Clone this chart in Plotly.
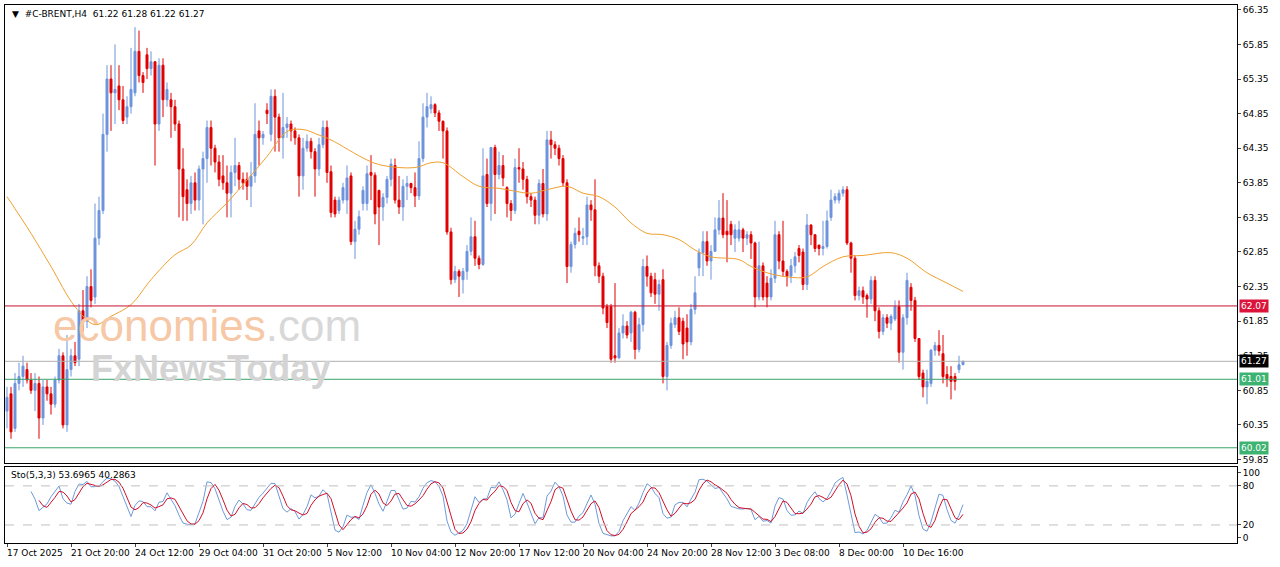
import plotly.graph_objects as go

opens = [60.55,60.8,60.3,60.95,61.05,61.15,61.0,60.85,60.95,60.45,60.9,60.8,60.65,61.0,61.35,60.35,61.15,61.35,61.3,62.0,
61.85,62.35,62.2,63.05,63.45,64.55,65.35,65.15,65.25,65.05,64.8,64.95,65.15,65.75,65.4,65.7,65.5,65.6,64.7,65.55,
65.05,65.05,64.95,64.7,64.05,63.75,63.55,63.85,63.6,64.05,64.2,64.65,64.35,64.15,63.95,63.85,63.7,64.0,64.1,63.9,
63.9,63.8,63.95,64.6,64.5,64.9,64.55,65.1,64.8,64.5,64.65,64.7,64.6,64.5,63.95,64.35,64.45,64.3,64.05,64.4,
64.65,64.01,63.6,63.45,63.6,63.6,63.95,63.0,63.18,63.55,63.55,64.0,63.96,63.74,63.5,63.64,63.9,64.1,63.6,63.5,
63.8,63.84,63.78,63.66,64.2,64.8,64.92,64.98,64.86,64.74,64.6,63.14,62.45,62.57,62.45,62.57,62.86,63.07,62.76,62.67,
63.97,63.55,64.36,63.97,64.1,63.78,63.55,63.45,64.07,64.05,63.9,63.65,63.6,63.38,63.84,63.4,64.47,64.4,64.35,64.2,
63.85,62.64,62.96,63.15,63.05,63.07,63.53,63.46,62.65,62.5,62.06,62.06,61.35,61.32,61.68,61.78,61.68,61.98,61.44,61.8,
62.64,62.5,62.45,62.24,62.45,61.05,61.5,61.8,61.9,61.85,61.75,61.55,62.02,62.62,62.84,63.0,62.72,62.86,63.17,63.34,
63.15,63.25,63.05,63.05,63.17,63.05,63.1,62.98,62.2,62.65,62.4,62.2,62.47,63.1,62.72,62.57,62.5,62.65,62.9,62.85,
62.38,63.24,63.1,62.95,62.9,62.93,63.35,63.6,63.6,63.7,63.75,62.98,62.76,62.22,62.29,62.22,62.17,62.44,62.0,61.7,
61.9,61.82,61.88,62.06,61.4,61.9,62.34,62.15,61.6,61.1,60.9,60.95,61.43,61.5,61.38,61.08,61.05,61.05,61.15,61.22]
highs = [60.9,60.9,61.1,61.25,61.35,61.25,61.1,61.1,61.05,61.0,61.0,60.9,61.05,61.45,61.4,61.65,61.45,61.55,62.1,62.3,
62.5,62.6,63.55,63.65,64.85,65.55,65.55,65.85,65.55,65.25,65.1,65.8,66.1,66.05,65.45,65.8,65.75,65.6,65.65,65.65,
65.3,65.15,65.05,64.75,64.35,63.9,63.95,64.0,64.1,64.3,64.75,64.75,64.4,64.25,64.25,64.1,64.1,64.5,64.15,64.0,
64.0,64.15,65.0,64.75,64.6,65.0,65.2,65.2,64.85,65.15,64.8,64.75,64.65,64.55,64.5,64.55,64.5,64.35,64.5,64.75,
64.75,64.1,63.65,63.65,63.85,64.1,64.0,63.3,63.45,63.8,64.1,64.25,64.0,63.75,63.7,63.95,64.2,64.2,63.95,63.9,
63.95,63.85,64.0,64.45,65.0,65.15,65.1,65.0,64.9,64.75,64.65,63.2,62.65,62.6,62.62,62.95,63.35,63.3,62.8,64.35,
64.2,64.36,64.4,64.3,64.25,63.8,63.6,64.2,64.35,64.15,63.95,63.7,63.65,63.9,64.05,64.6,64.6,64.45,64.4,64.25,
63.9,63.0,63.2,63.35,63.2,63.65,63.6,63.9,62.7,62.55,62.1,62.1,62.4,61.75,61.95,61.85,62.0,62.0,61.9,62.75,
62.8,62.55,62.55,62.45,62.6,61.55,61.9,62.0,62.05,61.9,61.95,62.1,62.5,62.9,63.15,63.15,62.95,63.35,63.6,63.7,
63.6,63.3,63.25,63.3,63.2,63.15,63.15,63.0,63.0,62.7,62.5,62.6,63.3,63.15,63.3,62.6,62.75,62.85,62.95,62.9,
63.4,63.25,63.1,62.95,63.3,63.45,63.75,63.7,63.75,63.8,63.8,63.0,62.8,62.35,62.35,62.25,62.5,62.5,62.05,61.95,
61.95,61.95,62.15,62.15,61.95,62.55,62.4,62.2,61.6,61.15,61.15,61.45,61.55,61.72,61.65,61.2,61.2,61.1,61.35,61.28]
lows = [60.3,60.15,60.25,60.85,60.9,60.95,60.8,60.55,60.15,60.35,60.7,60.5,60.6,60.95,60.3,60.25,61.05,61.2,61.2,61.7,
61.75,62.05,62.1,62.95,63.4,64.3,64.6,64.7,64.9,64.7,64.7,64.85,65.1,65.3,65.15,65.35,65.4,64.1,64.6,64.8,
64.95,64.5,64.6,63.35,63.3,63.3,63.4,63.45,63.45,63.25,63.85,64.1,64.0,63.8,63.75,63.35,63.35,63.8,63.75,63.75,
63.6,63.5,63.85,64.1,64.4,64.7,64.45,64.3,64.3,64.2,64.5,64.45,64.4,63.65,63.75,64.3,64.2,63.65,63.95,64.35,
63.85,63.35,63.35,63.4,63.55,63.4,62.95,62.75,63.1,63.45,63.45,63.6,63.25,62.95,63.3,63.55,63.8,63.55,63.4,63.3,
63.6,63.7,63.5,63.6,64.15,64.65,64.85,64.8,64.6,64.2,63.1,62.38,62.4,62.2,62.25,62.45,62.8,62.65,62.6,62.65,
63.5,63.3,63.4,63.9,63.8,63.35,63.3,63.4,63.85,63.75,63.55,63.5,63.25,63.25,63.35,63.3,64.2,64.25,64.1,63.8,
62.4,62.55,62.9,63.0,62.95,62.95,63.3,62.5,62.4,61.95,61.75,61.25,61.25,61.3,61.6,61.6,61.55,61.3,61.4,61.7,
62.35,62.2,62.1,62.0,60.95,60.85,61.45,61.75,61.65,61.3,61.35,61.5,61.95,62.5,62.5,62.65,62.45,62.85,63.1,63.05,
62.7,62.95,62.85,63.0,62.85,62.95,62.75,62.05,62.15,62.15,62.05,62.15,62.4,62.6,62.5,62.35,62.4,62.55,62.7,62.3,
62.3,62.95,62.85,62.8,62.8,62.9,63.3,63.55,63.55,63.65,62.95,62.55,62.15,62.15,62.1,61.9,62.1,61.85,61.6,61.65,
61.75,61.72,61.85,61.25,61.15,61.8,62.0,61.55,61.0,60.75,60.65,60.9,61.35,61.35,60.95,60.9,60.72,60.85,61.1,61.22]
closes = [60.75,60.25,60.95,61.05,61.2,61.0,60.85,60.95,60.45,60.9,60.8,60.65,61.0,61.35,60.35,61.15,61.35,61.25,62.0,61.85,
62.35,62.15,63.05,63.45,64.55,65.35,65.15,65.2,65.05,64.75,64.95,65.2,65.75,65.4,65.3,65.5,65.6,64.7,65.55,65.05,
65.2,64.95,64.7,64.05,63.65,63.55,63.85,63.6,64.05,64.2,64.65,64.35,64.15,63.9,63.85,63.7,64.0,64.1,63.9,63.85,
63.8,63.95,64.55,64.5,64.55,64.85,65.1,64.8,64.5,64.65,64.7,64.6,64.5,63.95,64.35,64.45,64.3,64.05,64.4,64.65,
64.0,63.42,63.4,63.6,63.78,63.92,63.0,63.18,63.36,63.74,63.98,63.96,63.4,63.5,63.64,63.9,64.12,63.6,63.5,63.8,
63.84,63.78,63.66,64.2,64.8,64.95,64.98,64.86,64.74,64.6,63.14,62.45,62.57,62.5,62.57,62.86,63.07,62.76,62.67,63.95,
63.55,64.36,63.97,64.1,63.92,63.55,63.45,64.07,64.05,63.9,63.65,63.6,63.38,63.84,63.4,64.47,64.4,64.35,64.2,63.85,
62.64,62.96,63.12,63.1,63.07,63.53,63.46,62.65,62.5,62.04,61.83,61.3,61.32,61.68,61.78,61.65,61.98,61.44,61.8,62.64,
62.5,62.26,62.24,62.38,61.05,61.5,61.82,61.9,61.7,61.52,61.55,62.02,62.26,62.84,63.0,62.72,62.86,63.17,63.34,63.1,
63.1,63.1,63.17,63.17,63.05,63.1,62.98,62.2,62.65,62.2,62.2,62.47,63.1,62.72,62.57,62.5,62.65,62.78,62.8,62.38,
63.24,63.1,62.9,62.9,62.93,63.3,63.6,63.65,63.7,63.75,62.98,62.76,62.22,62.29,62.2,62.17,62.44,62.0,61.7,61.9,
61.82,61.92,62.06,61.4,61.9,62.44,62.15,61.6,61.05,60.9,60.98,61.43,61.5,61.42,61.05,61.02,60.98,60.98,61.22,61.27]

ma_idx = [0,6,11,17,22,26,31,36,42,46,50,55,60,65,70,74,78,81,90,94,102,106,109,114,118,123,131,135,140,144,148,152,156,160,164,
          168,172,176,183,186,190,195,200,204,209,214,221,225,230,235,239]
ma_vals = [63.65,63.12,62.64,62.06,61.8,61.92,62.09,62.45,62.81,62.95,63.27,63.56,63.89,64.23,64.59,64.62,64.54,64.47,64.18,64.1,64.07,64.14,64.14,63.94,63.8,63.77,63.7,63.75,63.8,63.7,63.65,63.5,63.27,63.12,63.1,
           63.03,62.88,62.78,62.74,62.64,62.55,62.49,62.49,62.64,62.78,62.8,62.84,62.76,62.55,62.4,62.28]

tick_idx = [0,16,32,48,64,80,96,112,128,144,160,176,192,208,224]
tick_text = ["17 Oct 2025","21 Oct 20:00","24 Oct 12:00","29 Oct 04:00","31 Oct 20:00","5 Nov 12:00","10 Nov 04:00",
             "12 Nov 20:00","17 Nov 12:00","20 Nov 04:00","24 Nov 20:00","28 Nov 12:00","3 Dec 08:00","8 Dec 00:00","10 Dec 16:00"]
price_ticks = [66.35,65.85,65.35,64.85,64.35,63.85,63.35,62.85,62.35,61.85,61.35,60.85,60.35,59.85]
levels = [62.07,61.27,61.01,60.02]
level_colors = ["#c8102e","#b0b0b0","#3aa36a","#3aa36a"]
label_bg = ["#dc143c","#000000","#3cb371","#3cb371"]

# stochastic (5,3,3)
n = len(closes)
K, D = [None]*n, [None]*n
num, den = [None]*n, [None]*n
for i in range(4, n):
    ll = min(lows[i-4:i+1]); hh = max(highs[i-4:i+1])
    num[i] = closes[i]-ll; den[i] = hh-ll
for i in range(6, n):
    s1 = sum(num[i-2:i+1]); s2 = sum(den[i-2:i+1])
    K[i] = 100*s1/s2 if s2 else 50
for i in range(8, n):
    D[i] = sum(K[i-2:i+1])/3
xs = list(range(n))

fig = go.Figure()
fig.add_trace(go.Candlestick(x=xs, open=opens, high=highs, low=lows, close=closes, xaxis="x", yaxis="y",
    increasing=dict(line=dict(color="#6d94dc", width=1), fillcolor="#6d94dc"),
    decreasing=dict(line=dict(color="#e00000", width=1), fillcolor="#e00000"),
    whiskerwidth=0, showlegend=False, hoverinfo="skip"))
fig.add_trace(go.Scatter(x=ma_idx, y=ma_vals, mode="lines", line=dict(color="#f0a030", width=1, shape="spline"),
    xaxis="x", yaxis="y", showlegend=False))
for lv, c in zip(levels, level_colors):
    fig.add_shape(type="line", xref="x domain", yref="y", x0=0, x1=1, y0=lv, y1=lv, line=dict(color=c, width=1))
for lv, bg in zip(levels, label_bg):
    fig.add_annotation(xref="paper", yref="y", x=1.002, y=lv, text=f"{lv:.2f}", showarrow=False, xanchor="left",
        bgcolor=bg, font=dict(color="white", size=9, family="DejaVu Sans"), borderpad=1)
fig.add_trace(go.Scatter(x=xs, y=K, mode="lines", line=dict(color="#6d9ad8", width=1), xaxis="x2", yaxis="y2", showlegend=False))
fig.add_trace(go.Scatter(x=xs, y=D, mode="lines", line=dict(color="#d0102a", width=1), xaxis="x2", yaxis="y2", showlegend=False))
for lv in [80, 20]:
    fig.add_shape(type="line", xref="x2 domain", yref="y2", x0=0, x1=1, y0=lv, y1=lv, line=dict(color="#c0c0c0", width=1, dash="dash"))
for ti, tt in zip(tick_idx, tick_text):
    fig.add_annotation(xref="x2", yref="paper", x=ti-0.5, y=-0.005, text=tt, showarrow=False, xanchor="left", yanchor="top",
        font=dict(size=9, family="DejaVu Sans", color="black"))

fig.add_annotation(xref="paper", yref="paper", x=0.004, y=0.997, text="▼  #C-BRENT,H4  61.22 61.28 61.22 61.27", showarrow=False,
    xanchor="left", yanchor="top", font=dict(size=9, family="DejaVu Sans", color="black"))
fig.add_annotation(xref="paper", yref="paper", x=0.003, y=0.139, text="Sto(5,3,3) 53.6965 40.2863", showarrow=False,
    xanchor="left", yanchor="top", font=dict(size=9, family="DejaVu Sans", color="black"))
fig.add_annotation(xref="paper", yref="paper", x=0.037, y=0.405, text="<span style='color:#f6c8a6'>economies</span><span style='color:#d8d8d8'>.com</span>",
    showarrow=False, xanchor="left", yanchor="middle", font=dict(size=44, family="Liberation Sans"))
fig.add_annotation(xref="paper", yref="paper", x=0.068, y=0.325, text="<b>FxNewsToday</b>", showarrow=False, xanchor="left",
    yanchor="middle", font=dict(size=36, family="Liberation Sans", color="#d4d4d4"))

ax = dict(showgrid=False, zeroline=False, mirror=True, showline=True, linecolor="black", linewidth=1)
fig.update_layout(
    width=1280, height=567, margin=dict(l=5, r=43, t=5, b=24, autoexpand=False), paper_bgcolor="white", plot_bgcolor="white",
    xaxis=dict(domain=[0, 1], range=[-0.5, 307.5], anchor="y", showticklabels=False, rangeslider=dict(visible=False), **ax),
    xaxis2=dict(domain=[0, 1], range=[-0.5, 307.5], anchor="y2", showticklabels=False, ticks="outside", tickvals=tick_idx,
                ticklen=3, **ax),
    yaxis=dict(domain=[0.1487, 1], range=[59.80, 66.42], side="right", tickvals=price_ticks, ticktext=[f"{p:.2f}" for p in price_ticks],
               ticks="outside", ticklen=3, tickfont=dict(size=9, family="DejaVu Sans", color="black"), anchor="x", **ax),
    yaxis2=dict(domain=[0, 0.1413], range=[-7.7, 109], side="right", tickvals=[0, 20, 80, 100], ticks="outside", ticklen=3,
                tickfont=dict(size=9, family="DejaVu Sans", color="black"), anchor="x2", **ax),
)
fig.write_html("out.html", config={"displayModeBar": False},
               post_script="document.body.style.margin='0';document.body.style.overflow='hidden';")
